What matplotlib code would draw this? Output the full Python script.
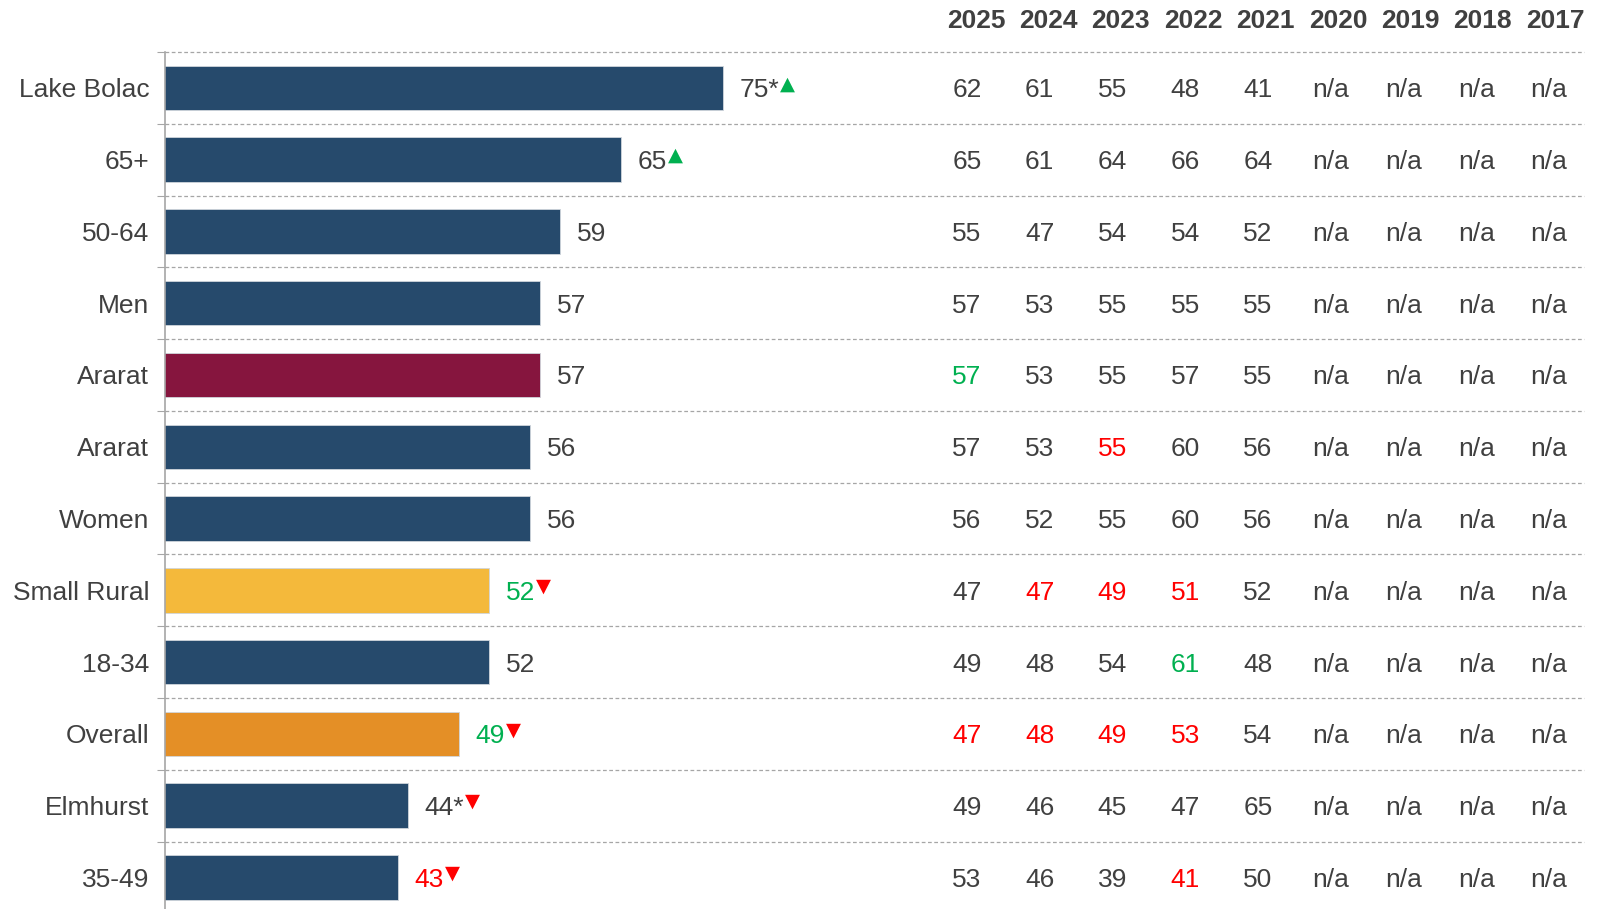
import matplotlib
matplotlib.use("Agg")
import matplotlib.pyplot as plt
import matplotlib.transforms as mtransforms

plt.rcParams['font.family'] = ['Liberation Sans', 'DejaVu Sans']

# данные
categories = ["Lake Bolac", "65+", "50-64", "Men", "Ararat", "Ararat", "Women",
              "Small Rural", "18-34", "Overall", "Elmhurst", "35-49"]
scores_2025 = [75, 65, 59, 57, 57, 56, 56, 52, 52, 49, 44, 43]
score_labels = ["75*", "65", "59", "57", "57", "56", "56", "52", "52", "49", "44*", "43"]
label_colors = ["text", "text", "text", "text", "text", "text", "text",
                "green", "text", "green", "text", "red"]
arrows = ["up", "up", None, None, None, None, None, "down", None, "down", "down", "down"]
bar_kinds = ["navy", "navy", "navy", "navy", "maroon", "navy", "navy",
             "yellow", "navy", "orange", "navy", "navy"]

years = ["2025", "2024", "2023", "2022", "2021", "2020", "2019", "2018", "2017"]
history = [
    ["62", "61", "55", "48", "41", "n/a", "n/a", "n/a", "n/a"],
    ["65", "61", "64", "66", "64", "n/a", "n/a", "n/a", "n/a"],
    ["55", "47", "54", "54", "52", "n/a", "n/a", "n/a", "n/a"],
    ["57", "53", "55", "55", "55", "n/a", "n/a", "n/a", "n/a"],
    ["57", "53", "55", "57", "55", "n/a", "n/a", "n/a", "n/a"],
    ["57", "53", "55", "60", "56", "n/a", "n/a", "n/a", "n/a"],
    ["56", "52", "55", "60", "56", "n/a", "n/a", "n/a", "n/a"],
    ["47", "47", "49", "51", "52", "n/a", "n/a", "n/a", "n/a"],
    ["49", "48", "54", "61", "48", "n/a", "n/a", "n/a", "n/a"],
    ["47", "48", "49", "53", "54", "n/a", "n/a", "n/a", "n/a"],
    ["49", "46", "45", "47", "65", "n/a", "n/a", "n/a", "n/a"],
    ["53", "46", "39", "41", "50", "n/a", "n/a", "n/a", "n/a"],
]
# (row, col) -> цвет значения в таблице
history_marks = {
    (4, 0): "green",
    (5, 2): "red",
    (7, 1): "red", (7, 2): "red", (7, 3): "red",
    (8, 3): "green",
    (9, 0): "red", (9, 1): "red", (9, 2): "red", (9, 3): "red",
    (11, 3): "red",
}

palette = {"navy": "#264a6c", "maroon": "#86153e", "yellow": "#f4b93b",
           "orange": "#e48f26", "text": "#404040", "green": "#00b050",
           "red": "#ff0000", "grid": "#a6a6a6"}

W, H = 1602, 909
fig = plt.figure(figsize=(W / 100, H / 100), dpi=100)
ax = fig.add_axes([164.5 / W, 0, (1584 - 164.5) / W, 1 - 52 / H])

n = len(categories)
rows = list(range(n))
ax.barh(rows, scores_2025, height=0.62, left=0,
        color=[palette[k] for k in bar_kinds], edgecolor="#d0d6dc", linewidth=0.6, zorder=2)
ax.set_xlim(20, 159.8)
ax.set_ylim(11.44, -0.5)

# пунктирные разделители
for b in [r - 0.5 for r in range(n + 1)]:
    ax.axhline(b, color=palette["grid"], lw=0.9, ls=(0, (3, 2)), clip_on=False, zorder=1)

ax.set_yticks([r - 0.5 for r in range(n)])
ax.set_yticklabels([])
ax.tick_params(axis="y", which="major", length=6, color=palette["grid"], direction="out")
ax.set_yticks(rows, minor=True)
ax.set_yticklabels(categories, minor=True, fontsize=19, color=palette["text"])
ax.tick_params(axis="y", which="minor", length=0, pad=11)
ax.set_xticks([])
for s in ["top", "right", "bottom"]:
    ax.spines[s].set_visible(False)
ax.spines["left"].set_color(palette["grid"])
ax.spines["left"].set_linewidth(1.2)

# подписи значений у столбцов
for i, (v, lab) in enumerate(zip(scores_2025, score_labels)):
    t = ax.annotate(lab, xy=(v, i), xytext=(12, 0), textcoords="offset points",
                    ha="left", va="center_baseline", fontsize=19,
                    color=palette[label_colors[i]])
    if arrows[i] == "up":
        ax.annotate("▲", xy=(1, 0.97), xycoords=t, xytext=(0.5, 3.5), textcoords="offset points",
                    ha="left", va="top", fontsize=14, color=palette["green"],
                    family="DejaVu Sans")
    elif arrows[i] == "down":
        ax.annotate("▼", xy=(1, 0.97), xycoords=t, xytext=(0.5, 3.5), textcoords="offset points",
                    ha="left", va="top", fontsize=14, color=palette["red"],
                    family="DejaVu Sans")

# таблица прошлых лет
trans = mtransforms.blended_transform_factory(fig.transFigure, ax.transData)
col_x = [(967 + 72.75 * j) / W for j in range(len(years))]
head_x = [(976 + 72.4 * j) / W for j in range(len(years))]
for j, y in enumerate(years):
    fig.text(head_x[j], 1 - 18.5 / H, y, ha="center", va="center_baseline", fontsize=19,
             fontweight="bold", color=palette["text"])
for i, row in enumerate(history):
    for j, val in enumerate(row):
        c = palette[history_marks.get((i, j), "text")]
        ax.text(col_x[j], i, val, transform=trans, ha="center", va="center_baseline",
                fontsize=19, color=c)

fig.savefig("out.png", dpi=100)
